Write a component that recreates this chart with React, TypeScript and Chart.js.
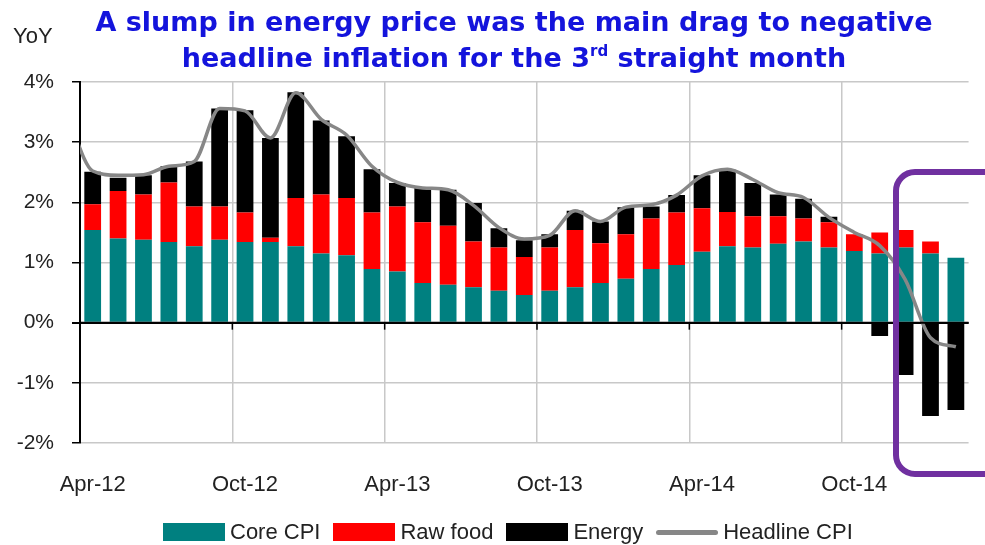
import React, { useEffect, useRef } from 'react';
import { Chart, registerables } from 'chart.js';

Chart.register(...registerables);

// Categories (Mar-12 only feeds the headline line entering from the left edge)
const months = [
  'Mar-12', 'Apr-12', 'May-12', 'Jun-12', 'Jul-12', 'Aug-12', 'Sep-12', 'Oct-12', 'Nov-12', 'Dec-12',
  'Jan-13', 'Feb-13', 'Mar-13', 'Apr-13', 'May-13', 'Jun-13', 'Jul-13', 'Aug-13', 'Sep-13', 'Oct-13', 'Nov-13', 'Dec-13',
  'Jan-14', 'Feb-14', 'Mar-14', 'Apr-14', 'May-14', 'Jun-14', 'Jul-14', 'Aug-14', 'Sep-14', 'Oct-14', 'Nov-14', 'Dec-14',
  'Jan-15', 'Feb-15',
];

const coreCPI = [
  null, 1.54, 1.40, 1.38, 1.34, 1.27, 1.38, 1.34, 1.34, 1.27,
  1.15, 1.12, 0.89, 0.85, 0.66, 0.63, 0.59, 0.53, 0.46, 0.53, 0.59, 0.66,
  0.73, 0.89, 0.96, 1.18, 1.27, 1.25, 1.31, 1.35, 1.25, 1.19, 1.15, 1.25,
  1.15, 1.08,
];

const rawFood = [
  null, 0.43, 0.79, 0.75, 0.99, 0.66, 0.55, 0.49, 0.07, 0.80,
  0.98, 0.95, 0.94, 1.08, 1.01, 0.98, 0.76, 0.72, 0.63, 0.72, 0.95, 0.66,
  0.74, 0.84, 0.87, 0.72, 0.57, 0.52, 0.46, 0.38, 0.42, 0.28, 0.35, 0.29,
  0.20, 0.0,
];

const energy = [
  null, 0.54, 0.22, 0.32, 0.27, 0.75, 1.63, 1.70, 1.66, 1.76,
  1.23, 1.03, 0.72, 0.39, 0.58, 0.60, 0.64, 0.32, 0.28, 0.22, 0.32, 0.36,
  0.45, 0.20, 0.29, 0.55, 0.70, 0.55, 0.36, 0.33, 0.09, 0.0, -0.22, -0.87,
  -1.55, -1.45,
];

const headlineCPI = [
  3.45, 2.52, 2.45, 2.46, 2.60, 2.68, 3.56, 3.52, 3.07, 3.82,
  3.38, 3.12, 2.60, 2.33, 2.24, 2.21, 1.95, 1.58, 1.39, 1.45, 1.86, 1.68,
  1.92, 1.96, 2.12, 2.44, 2.55, 2.38, 2.16, 2.08, 1.75, 1.50, 1.28, 0.72,
  -0.25, -0.40,
];

const labeledMonths = ['Apr', 'Oct'];
const yMin = -2;
const yMax = 4;

const COLORS = {
  core: '#008080',
  food: '#ff0000',
  energy: '#000000',
  headline: '#878787',
  grid: '#c8c8c8',
  text: '#222222',
  title: '#1414dc',
  frame: '#7030a0',
};

const FONT = '"Liberation Sans", Arial, sans-serif';

const isLabeled = (m: string) => labeledMonths.includes(m.slice(0, 3));

export default function App() {
  const ref = useRef<HTMLCanvasElement>(null);

  useEffect(() => {
    if (!ref.current) return;

    const zeroAxis = {
      id: 'zeroAxis',
      afterDatasetsDraw(chart: any) {
        const xs = chart.scales.x;
        const ys = chart.scales.y;
        const ctx = chart.ctx;
        const area = chart.chartArea;
        const y0 = ys.getPixelForValue(0);
        ctx.save();
        ctx.strokeStyle = '#000';
        ctx.lineWidth = 2;
        ctx.beginPath();
        ctx.moveTo(area.left, y0);
        ctx.lineTo(area.right, y0);
        ctx.stroke();
        ctx.lineWidth = 1.5;
        months.forEach((m, i) => {
          if (i > 1 && isLabeled(m)) {
            const px = xs.getPixelForValue(i - 0.5);
            ctx.beginPath();
            ctx.moveTo(px, y0);
            ctx.lineTo(px, y0 + 7);
            ctx.stroke();
          }
        });
        ctx.restore();
      },
    };

    const chart = new Chart(ref.current, {
      type: 'bar',
      data: {
        labels: months,
        datasets: [
          {
            type: 'line',
            label: 'Headline CPI',
            data: headlineCPI,
            borderColor: COLORS.headline,
            backgroundColor: COLORS.headline,
            borderWidth: 3.5,
            pointRadius: 0,
            cubicInterpolationMode: 'monotone',
            order: 0,
            stack: 'line',
          } as any,
          {
            label: 'Core CPI',
            data: coreCPI,
            backgroundColor: COLORS.core,
            order: 1,
            stack: 'cpi',
          },
          {
            label: 'Raw food',
            data: rawFood,
            backgroundColor: COLORS.food,
            order: 1,
            stack: 'cpi',
          },
          {
            label: 'Energy',
            data: energy,
            backgroundColor: COLORS.energy,
            order: 1,
            stack: 'cpi',
          },
        ],
      },
      options: {
        animation: false,
        responsive: false,
        maintainAspectRatio: false,
        barPercentage: 0.66,
        categoryPercentage: 1,
        layout: { padding: { top: 82, right: 8, left: 0, bottom: 0 } },
        plugins: {
          legend: { display: false },
          title: { display: false },
          tooltip: { enabled: false },
        },
        scales: {
          x: {
            stacked: true,
            min: 'Apr-12',
            offset: true,
            grid: {
              offset: true,
              drawTicks: false,
              lineWidth: 1.5,
              color: (ctx: any) => {
                const t = ctx.tick;
                if (!t) return 'rgba(0,0,0,0)';
                const m = months[t.value];
                return t.value > 1 && m && isLabeled(m) ? COLORS.grid : 'rgba(0,0,0,0)';
              },
            },
            border: { display: false },
            ticks: {
              autoSkip: false,
              maxRotation: 0,
              minRotation: 0,
              padding: 29,
              color: COLORS.text,
              font: { family: FONT, size: 22 },
              callback: (v: any) => {
                const m = months[v as number];
                return m && isLabeled(m) ? m : '';
              },
            },
            afterFit: (s: any) => {
              s.height = 102;
            },
          },
          y: {
            stacked: true,
            min: yMin,
            max: yMax,
            grid: {
              color: (ctx: any) => (ctx.tick && ctx.tick.value === 0 ? '#000' : COLORS.grid),
              lineWidth: (ctx: any) => (ctx.tick && ctx.tick.value === 0 ? 2 : 1.5),
              tickColor: '#000',
              tickLength: 8,
              drawTicks: true,
            },
            border: { color: '#000', width: 2 },
            ticks: {
              stepSize: 1,
              padding: 18,
              color: COLORS.text,
              font: { family: FONT, size: 21 },
              callback: (v: any) => `${v}%`,
            },
            afterFit: (s: any) => {
              s.width = 80;
            },
          },
        },
      } as any,
      plugins: [zeroAxis],
    });

    return () => chart.destroy();
  }, []);

  const legendItems = [
    { label: 'Core CPI', color: COLORS.core, kind: 'box' },
    { label: 'Raw food', color: COLORS.food, kind: 'box' },
    { label: 'Energy', color: COLORS.energy, kind: 'box' },
    { label: 'Headline CPI', color: COLORS.headline, kind: 'line' },
  ];

  return (
    <div
      style={{
        position: 'absolute',
        left: 0,
        top: 0,
        width: 985,
        height: 545,
        overflow: 'hidden',
        background: '#fff',
      }}
    >
      <canvas
        ref={ref}
        width={985}
        height={545}
        style={{ position: 'absolute', left: 0, top: 0, width: 985, height: 545 }}
      />
      <div
        style={{
          position: 'absolute',
          left: 0,
          top: 4,
          width: 985,
          paddingLeft: 43,
          boxSizing: 'border-box',
          textAlign: 'center',
          fontFamily: '"DejaVu Sans", Verdana, sans-serif',
          fontWeight: 'bold',
          fontSize: 27,
          lineHeight: '36px',
          color: COLORS.title,
        }}
      >
        <div>A slump in energy price was the main drag to negative</div>
        <div>
          headline inflation for the 3
          <span style={{ fontSize: 15, position: 'relative', top: -11 }}>rd</span> straight month
        </div>
      </div>
      <div
        style={{
          position: 'absolute',
          left: 13,
          top: 23,
          fontFamily: FONT,
          fontSize: 22,
          lineHeight: '26px',
          color: COLORS.text,
        }}
      >
        YoY
      </div>
      <div
        style={{
          position: 'absolute',
          left: 163,
          top: 519,
          height: 26,
          display: 'flex',
          alignItems: 'center',
          fontFamily: FONT,
          fontSize: 22,
          color: COLORS.text,
          whiteSpace: 'nowrap',
        }}
      >
        {legendItems.map((it) => (
          <div key={it.label} style={{ display: 'flex', alignItems: 'center', marginRight: 13 }}>
            {it.kind === 'box' ? (
              <div style={{ width: 62, height: 18, background: it.color }} />
            ) : (
              <div style={{ width: 62, height: 18, display: 'flex', alignItems: 'center' }}>
                <div style={{ width: 62, height: 5, borderRadius: 3, background: it.color }} />
              </div>
            )}
            <span style={{ marginLeft: 5, lineHeight: '26px' }}>{it.label}</span>
          </div>
        ))}
      </div>
      <div
        style={{
          position: 'absolute',
          left: 893,
          top: 169,
          width: 115,
          height: 308,
          border: `6px solid ${COLORS.frame}`,
          borderRadius: 22,
          boxSizing: 'border-box',
        }}
      />
    </div>
  );
}
